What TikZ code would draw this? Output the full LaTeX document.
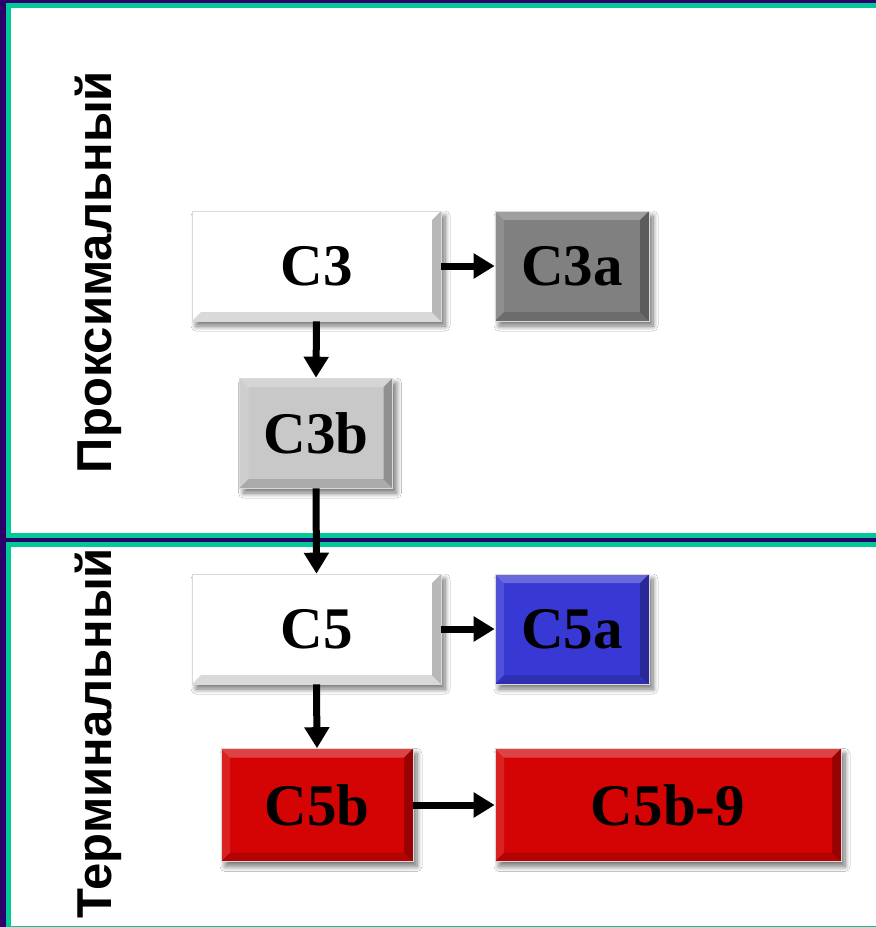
\documentclass[tikz,border=0pt]{standalone}
\usepackage{fontspec}
\setmainfont{Liberation Serif}
\newfontfamily\labelfont{Liberation Sans}
\usetikzlibrary{arrows.meta,shadows.blur}
\definecolor{bgpurple}{HTML}{2C006B}
\definecolor{teal2}{HTML}{00C896}
\definecolor{c3agray}{HTML}{808080}
\definecolor{c3bgray}{HTML}{C8C8C8}
\definecolor{c5ablue}{HTML}{3838D4}
\definecolor{c5bred}{HTML}{D50404}
\tikzset{
  panel/.style={draw=teal2, line width=5.5pt, fill=white},
  sidelabel/.style={rotate=90, anchor=base, font=\labelfont\bfseries\fontsize{49}{49}\selectfont, text=black},
  bevbox/.style={rectangle, draw=black!15, line width=0.6pt, inner sep=0pt,
    font=\bfseries\fontsize{59}{59}\selectfont, text=black,
    blur shadow={shadow xshift=4pt, shadow yshift=-5pt, shadow blur radius=5pt, shadow blur steps=10, shadow opacity=55},
    path picture={
      \coordinate (nw) at (path picture bounding box.north west);
      \coordinate (ne) at (path picture bounding box.north east);
      \coordinate (sw) at (path picture bounding box.south west);
      \coordinate (se) at (path picture bounding box.south east);
      \fill[white, opacity=0.25] (nw) -- (ne) -- ([shift={(-9pt,-9pt)}]ne) -- ([shift={(9pt,-9pt)}]nw) -- cycle;
      \fill[white, opacity=0.12] (nw) -- (sw) -- ([shift={(9pt,9pt)}]sw) -- ([shift={(9pt,-9pt)}]nw) -- cycle;
      \fill[black, opacity=0.15] (sw) -- (se) -- ([shift={(-9pt,9pt)}]se) -- ([shift={(9pt,9pt)}]sw) -- cycle;
      \fill[black, opacity=0.28] (ne) -- (se) -- ([shift={(-9pt,9pt)}]se) -- ([shift={(-9pt,-9pt)}]ne) -- cycle;
    }},
  flow/.style={line width=7pt, -{Triangle[length=21pt,width=24pt]}}
}
\begin{document}
\begin{tikzpicture}[x=1pt,y=-1pt]
\fill[bgpurple] (0,0) rectangle (876,927);
\useasboundingbox (0,0) rectangle (876,927);
% panels
\draw[panel] (8.5,5.5) rectangle (890,535.5);
\draw[panel] (8.5,544.5) rectangle (890,929);
% side labels
\node[sidelabel] (lblprox) at (111,272) {Проксимальный};
\node[sidelabel] (lblterm) at (111,733) {Терминальный};
% boxes
\node[bevbox, fill=white, minimum width=249pt, minimum height=110pt] (C3) at (316.5,266) {C3};
\node[bevbox, fill=c3agray, minimum width=154pt, minimum height=110pt] (C3a) at (572,266) {C3a};
\node[bevbox, fill=c3bgray, minimum width=153pt, minimum height=110pt] (C3b) at (316,433) {C3b};
\node[bevbox, fill=white, minimum width=249pt, minimum height=110pt] (C5) at (316.5,629) {C5};
\node[bevbox, fill=c5ablue, minimum width=154pt, minimum height=110pt] (C5a) at (572,629) {C5a};
\node[bevbox, fill=c5bred, minimum width=192pt, minimum height=113pt] (C5b) at (317,805) {C5b};
\node[bevbox, fill=c5bred, minimum width=346pt, minimum height=113pt] (C59) at (668,805) {C5b-9};
% connectors
\draw[flow] (C3.east) -- (C3a.west);
\draw[flow] (C3.south) -- (C3b.north);
\draw[flow] (C3b.south) -- (C5.north);
\draw[flow] (C5.east) -- (C5a.west);
\draw[flow] (C5.south) -- (C5b.north);
\draw[flow] (C5b.east) -- (C59.west);
\end{tikzpicture}
\end{document}
